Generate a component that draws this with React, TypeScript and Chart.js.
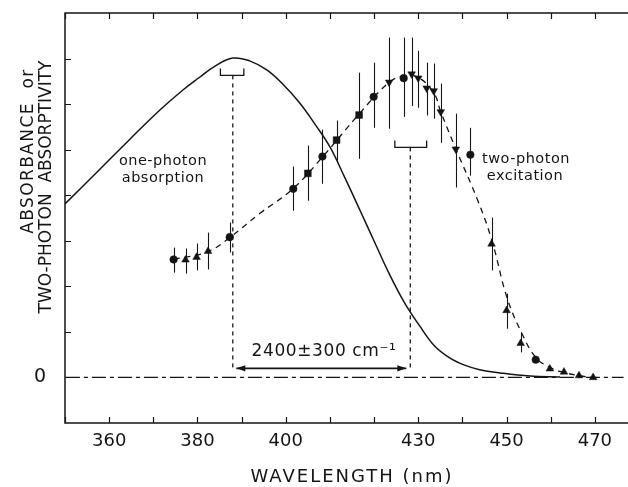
import React, { useEffect, useRef } from 'react';
import { Chart, registerables } from 'chart.js';

Chart.register(...registerables);

// ---------- axis ticks ----------
const xTickValues = [350, 360, 370, 380, 390, 400, 410, 420, 430, 440, 450, 460, 470];
const xTickLabels = [360, 380, 400, 430, 450, 470];
const yTickValues = [-1, 0, 1, 2, 3, 4, 5, 6, 7, 8];
const yTickLabels = [0];

// ---------- one-photon absorption (solid curve) ----------
const oneNm = [349.7, 357.9, 364.7, 371.5, 376.7, 380.5, 383.9, 388.0, 391.8, 395.7, 399.3, 403.2, 406.6, 410.0, 413.4, 416.8, 420.2, 423.6, 427.0, 430.4, 433.7, 437.1, 440.5, 443.9, 448.5, 455.3, 462.1];
const oneAbs = [3.78, 4.57, 5.23, 5.87, 6.31, 6.59, 6.83, 7.01, 6.95, 6.75, 6.44, 6.02, 5.56, 5.06, 4.38, 3.67, 2.95, 2.24, 1.62, 1.12, 0.69, 0.43, 0.27, 0.17, 0.1, 0.03, 0.01];

// ---------- two-photon excitation (measured points) ----------
const tpNm = [374.6, 377.3, 379.8, 382.4, 387.3, 401.7, 405.0, 408.3, 411.5, 416.6, 419.9, 423.4, 426.7, 428.5, 430.0, 431.9, 433.5, 435.1, 438.5, 441.8, 446.6, 450.0, 453.2, 456.6, 459.8, 463.0, 466.4, 469.6];
const tpVal = [2.59, 2.58, 2.64, 2.77, 3.08, 4.14, 4.48, 4.85, 5.21, 5.76, 6.16, 6.48, 6.57, 6.66, 6.57, 6.35, 6.29, 5.83, 5.01, 4.89, 2.93, 1.47, 0.75, 0.39, 0.19, 0.12, 0.04, 0.0];
const tpErrHigh = [2.85, 2.83, 2.94, 3.18, 3.4, 4.63, 5.09, 5.44, 5.64, 6.69, 6.91, 7.46, 7.46, 7.46, 7.17, 6.91, 6.89, 6.45, 5.79, 5.48, 3.51, 1.84, 0.99, null, null, null, null, null];
const tpErrLow = [2.3, 2.28, 2.35, 2.37, 2.74, 3.66, 3.88, 4.25, 4.76, 4.8, 5.48, 5.46, 5.72, 5.96, 5.92, 5.75, 5.68, 5.15, 4.17, 4.43, 2.35, 1.07, 0.55, null, null, null, null, null];
const tpMarker = ['circle', 'tri', 'tri', 'tri', 'circle', 'circle', 'square', 'circle', 'square', 'square', 'circle', 'down', 'circle', 'down', 'down', 'down', 'down', 'down', 'down', 'circle', 'tri', 'tri', 'tri', 'circle', 'tri', 'tri', 'tri', 'tri'];

// ---------- dashed fit through two-photon points ----------
const fitNm = [374.6, 382.3, 387.3, 394.1, 401.6, 408.4, 416.5, 423.3, 426.7, 429.9, 433.5, 435.1, 438.5, 443.5, 446.7, 450.1, 453.5, 456.6, 459.8, 463.0, 466.4, 469.6];
const fitVal = [2.59, 2.76, 3.07, 3.6, 4.14, 4.85, 5.77, 6.47, 6.62, 6.59, 6.25, 5.83, 5.02, 3.88, 3.0, 1.75, 0.96, 0.44, 0.22, 0.11, 0.04, 0.0];

// ---------- zero baseline ----------
const zeroNm = [350.2, 476.5];
const zeroVal = [0, 0];

// ---------- peak markers / brackets / separation arrow ----------
const markerNm = [388.0, 428.2];
const markerTop = [6.63, 5.05];
const markerBottom = [0.15, 0.15];
const bracketLeft = [385.2, 424.7];
const bracketRight = [390.5, 431.9];
const bracketBar = [6.63, 5.05];
const bracketTip = [6.78, 5.2];
const arrowNm = [388.8, 427.3];
const arrowVal = [0.2, 0.2];

const INK = '#151515';
const FONT = '"DejaVu Sans", sans-serif';

const pts = (xs: number[], ys: number[]) => xs.map((v, i) => ({ x: v, y: ys[i] }));

const styleOf = (m: string) => (m === 'circle' ? 'circle' : m === 'square' ? 'rect' : 'triangle');
const rotOf = (m: string) => (m === 'down' ? 180 : 0);
const radOf = (m: string) => (m === 'circle' ? 3.8 : m === 'square' ? 4.8 : 4.4);

const decor = {
  id: 'decor',
  beforeDatasetsDraw(chart: any) {
    const { ctx, chartArea: a, scales } = chart;
    const x = scales.x;
    const y = scales.y;
    ctx.save();
    ctx.strokeStyle = INK;
    // error bars
    ctx.lineWidth = 1.1;
    tpNm.forEach((nm, i) => {
      const hi = tpErrHigh[i];
      const lo = tpErrLow[i];
      if (hi == null || lo == null) return;
      const px = Math.round(x.getPixelForValue(nm)) + 0.5;
      ctx.beginPath();
      ctx.moveTo(px, y.getPixelForValue(hi));
      ctx.lineTo(px, y.getPixelForValue(lo));
      ctx.stroke();
    });
    // frame (left, top, bottom)
    ctx.lineWidth = 1.5;
    ctx.beginPath();
    ctx.moveTo(a.right, a.top);
    ctx.lineTo(a.left, a.top);
    ctx.lineTo(a.left, a.bottom);
    ctx.lineTo(a.right, a.bottom);
    ctx.stroke();
    // inward tick marks
    ctx.lineWidth = 1.2;
    ctx.beginPath();
    xTickValues.forEach((v) => {
      const px = Math.round(x.getPixelForValue(v)) + 0.5;
      ctx.moveTo(px, a.bottom);
      ctx.lineTo(px, a.bottom - 6);
      ctx.moveTo(px, a.top);
      ctx.lineTo(px, a.top + 6);
    });
    yTickValues.forEach((v) => {
      if (v <= y.min || v >= y.max) return;
      const py = Math.round(y.getPixelForValue(v)) + 0.5;
      ctx.moveTo(a.left, py);
      ctx.lineTo(a.left + 6, py);
    });
    ctx.stroke();
    ctx.restore();
  },
  afterDraw(chart: any) {
    const { ctx, scales } = chart;
    const x = scales.x;
    const y = scales.y;
    ctx.save();
    ctx.fillStyle = INK;
    ctx.strokeStyle = INK;
    // arrowheads
    const ay = y.getPixelForValue(arrowVal[0]);
    const ax1 = x.getPixelForValue(arrowNm[0]);
    const ax2 = x.getPixelForValue(arrowNm[1]);
    ctx.beginPath();
    ctx.moveTo(ax1, ay);
    ctx.lineTo(ax1 + 9, ay - 3.2);
    ctx.lineTo(ax1 + 9, ay + 3.2);
    ctx.closePath();
    ctx.fill();
    ctx.beginPath();
    ctx.moveTo(ax2, ay);
    ctx.lineTo(ax2 - 9, ay - 3.2);
    ctx.lineTo(ax2 - 9, ay + 3.2);
    ctx.closePath();
    ctx.fill();

    ctx.textAlign = 'center';
    ctx.textBaseline = 'middle';
    // curve labels
    ctx.font = `14.5px ${FONT}`;
    (ctx as any).letterSpacing = '0.5px';
    ctx.fillText('one-photon', 163, 161);
    ctx.fillText('absorption', 163, 178);
    ctx.fillText('two-photon', 526, 159);
    ctx.fillText('excitation', 525, 176);
    // separation label
    ctx.font = `17px ${FONT}`;
    (ctx as any).letterSpacing = '0.6px';
    ctx.fillText('2400±300 cm⁻¹', 324, 352);
    // x title
    ctx.font = `18px ${FONT}`;
    (ctx as any).letterSpacing = '2px';
    ctx.fillText('WAVELENGTH (nm)', 352, 477);
    // y title (two lines, rotated)
    ctx.font = `17px ${FONT}`;
    (ctx as any).letterSpacing = '1.4px';
    ctx.save();
    ctx.translate(28.5, 151);
    ctx.rotate(-Math.PI / 2);
    ctx.fillText('ABSORBANCE  or', 0, 0);
    ctx.restore();
    (ctx as any).letterSpacing = '0px';
    ctx.save();
    ctx.translate(46.5, 187);
    ctx.rotate(-Math.PI / 2);
    ctx.fillText('TWO-PHOTON  ABSORPTIVITY', 0, 0);
    ctx.restore();
    ctx.restore();
  },
};

export default function App() {
  const ref = useRef<HTMLCanvasElement>(null);
  useEffect(() => {
    if (!ref.current) return;
    Chart.defaults.font.family = FONT;
    const lineBase = { pointRadius: 0, fill: false, borderColor: INK, showLine: true };
    const datasets: any[] = [
      {
        ...lineBase,
        label: 'one-photon absorption',
        data: pts(oneNm, oneAbs),
        borderWidth: 1.5,
        tension: 0.4,
      },
      {
        ...lineBase,
        label: 'two-photon fit',
        data: pts(fitNm, fitVal),
        borderWidth: 1.3,
        borderDash: [6, 5],
        tension: 0.4,
      },
      {
        label: 'two-photon excitation',
        data: pts(tpNm, tpVal),
        showLine: false,
        pointStyle: tpMarker.map(styleOf),
        rotation: tpMarker.map(rotOf),
        pointRadius: tpMarker.map(radOf),
        backgroundColor: INK,
        borderColor: INK,
        borderWidth: 0.5,
      },
      {
        ...lineBase,
        label: 'zero',
        data: pts(zeroNm, zeroVal),
        borderWidth: 1.2,
        borderDash: [14, 4, 4, 4],
      },
      {
        ...lineBase,
        label: 'separation',
        data: pts(arrowNm, arrowVal),
        borderWidth: 1.6,
      },
    ];
    markerNm.forEach((nm, i) => {
      datasets.push({
        ...lineBase,
        label: 'marker' + i,
        data: [
          { x: nm, y: markerTop[i] },
          { x: nm, y: markerBottom[i] },
        ],
        borderWidth: 1.3,
        borderDash: [4, 4],
      });
      datasets.push({
        ...lineBase,
        label: 'bracket' + i,
        data: [
          { x: bracketLeft[i], y: bracketTip[i] },
          { x: bracketLeft[i], y: bracketBar[i] },
          { x: bracketRight[i], y: bracketBar[i] },
          { x: bracketRight[i], y: bracketTip[i] },
        ],
        borderWidth: 1.3,
      });
    });

    const chart = new Chart(ref.current, {
      type: 'line',
      data: { datasets },
      plugins: [decor],
      options: {
        responsive: false,
        devicePixelRatio: 1,
        animation: false,
        layout: { autoPadding: false, padding: { left: 0, top: 13, right: 0, bottom: 0 } },
        plugins: { legend: { display: false }, tooltip: { enabled: false } },
        scales: {
          x: {
            type: 'linear',
            min: 350,
            max: 477.5,
            grid: { display: false, drawTicks: false },
            border: { display: false },
            ticks: {
              autoSkip: false,
              maxRotation: 0,
              padding: 8,
              color: INK,
              font: { size: 18, family: FONT },
              callback: (v: any) => (xTickLabels.includes(Math.round(Number(v))) ? String(Math.round(Number(v))) : null),
            },
            afterBuildTicks: (s: any) => {
              s.ticks = xTickValues.map((value) => ({ value }));
            },
            afterFit: (s: any) => {
              s.height = 64;
              s.paddingLeft = 0;
              s.paddingRight = 0;
            },
          },
          y: {
            type: 'linear',
            min: -1,
            max: 8,
            grid: { display: false, drawTicks: false },
            border: { display: false },
            ticks: {
              autoSkip: false,
              padding: 19,
              color: INK,
              font: { size: 19, family: FONT },
              callback: (v: any) => (yTickLabels.includes(Math.round(Number(v))) ? String(Math.round(Number(v))) : null),
            },
            afterBuildTicks: (s: any) => {
              s.ticks = yTickValues.map((value) => ({ value }));
            },
            afterFit: (s: any) => {
              s.width = 65;
              s.paddingTop = 0;
              s.paddingBottom = 0;
            },
          },
        },
      },
    });
    return () => chart.destroy();
  }, []);
  return (
    <div style={{ position: 'fixed', left: 0, top: 0, width: 628, height: 487, background: '#fff' }}>
      <canvas ref={ref} width={628} height={487} style={{ display: 'block', width: 628, height: 487 }} />
    </div>
  );
}
